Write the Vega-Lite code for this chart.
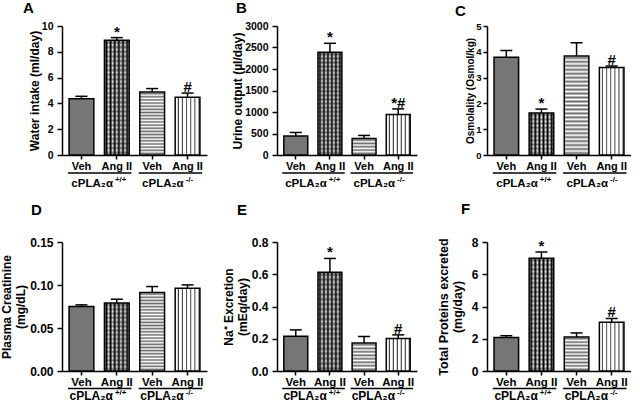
{
"$schema": "https://vega.github.io/schema/vega-lite/v6.json",
"background": "white",
"padding": {"left": 0, "top": 0, "right": 0, "bottom": 0},
"data": {"values": [
{"panel":"A","bar":"Veh +/+","treatment":"Veh","genotype":"+/+","value":4.37,"upper":4.55,"sig":""},
{"panel":"A","bar":"Ang II +/+","treatment":"Ang II","genotype":"+/+","value":8.89,"upper":9.1,"sig":"*"},
{"panel":"A","bar":"Veh -/-","treatment":"Veh","genotype":"-/-","value":4.88,"upper":5.15,"sig":""},
{"panel":"A","bar":"Ang II -/-","treatment":"Ang II","genotype":"-/-","value":4.47,"upper":4.8,"sig":"#"},
{"panel":"B","bar":"Veh +/+","treatment":"Veh","genotype":"+/+","value":440,"upper":524,"sig":""},
{"panel":"B","bar":"Ang II +/+","treatment":"Ang II","genotype":"+/+","value":2390,"upper":2598,"sig":"*"},
{"panel":"B","bar":"Veh -/-","treatment":"Veh","genotype":"-/-","value":385,"upper":455,"sig":""},
{"panel":"B","bar":"Ang II -/-","treatment":"Ang II","genotype":"-/-","value":940,"upper":1072,"sig":"*#"},
{"panel":"C","bar":"Veh +/+","treatment":"Veh","genotype":"+/+","value":3.79,"upper":4.05,"sig":""},
{"panel":"C","bar":"Ang II +/+","treatment":"Ang II","genotype":"+/+","value":1.63,"upper":1.78,"sig":"*"},
{"panel":"C","bar":"Veh -/-","treatment":"Veh","genotype":"-/-","value":3.84,"upper":4.35,"sig":""},
{"panel":"C","bar":"Ang II -/-","treatment":"Ang II","genotype":"-/-","value":3.39,"upper":3.45,"sig":"#"},
{"panel":"D","bar":"Veh +/+","treatment":"Veh","genotype":"+/+","value":0.075,"upper":0.0769,"sig":""},
{"panel":"D","bar":"Ang II +/+","treatment":"Ang II","genotype":"+/+","value":0.0792,"upper":0.0835,"sig":""},
{"panel":"D","bar":"Veh -/-","treatment":"Veh","genotype":"-/-","value":0.0912,"upper":0.0982,"sig":""},
{"panel":"D","bar":"Ang II -/-","treatment":"Ang II","genotype":"-/-","value":0.0962,"upper":0.1001,"sig":""},
{"panel":"E","bar":"Veh +/+","treatment":"Veh","genotype":"+/+","value":0.216,"upper":0.255,"sig":""},
{"panel":"E","bar":"Ang II +/+","treatment":"Ang II","genotype":"+/+","value":0.613,"upper":0.698,"sig":"*"},
{"panel":"E","bar":"Veh -/-","treatment":"Veh","genotype":"-/-","value":0.173,"upper":0.214,"sig":""},
{"panel":"E","bar":"Ang II -/-","treatment":"Ang II","genotype":"-/-","value":0.202,"upper":0.224,"sig":"#"},
{"panel":"F","bar":"Veh +/+","treatment":"Veh","genotype":"+/+","value":2.07,"upper":2.19,"sig":""},
{"panel":"F","bar":"Ang II +/+","treatment":"Ang II","genotype":"+/+","value":7.0,"upper":7.38,"sig":"*"},
{"panel":"F","bar":"Veh -/-","treatment":"Veh","genotype":"-/-","value":2.11,"upper":2.36,"sig":""},
{"panel":"F","bar":"Ang II -/-","treatment":"Ang II","genotype":"-/-","value":3.02,"upper":3.26,"sig":"#"}
]},
"config": {
  "font": "Liberation Sans",
  "view": {"stroke": null},
  "axis": {"grid": false, "domain": true, "ticks": true, "domainColor": "#000", "domainWidth": 1.5, "tickColor": "#000", "tickWidth": 1.5, "labelColor": "#000", "labelFontWeight": "bold", "labelFont": "Liberation Sans", "titleFont": "Liberation Sans", "titleFontWeight": "bold", "titleColor": "#000"},
  "axisX": {"labelAngle": 0, "tickSize": 4, "labelPadding": 1},
  "axisY": {"tickSize": 5, "labelPadding": 4},
  "title": {"anchor": "start", "frame": "group", "baseline": "alphabetic", "fontSize": 15, "fontWeight": "bold", "font": "Liberation Sans", "color": "#000"},
  "text": {"color": "#000", "font": "Liberation Sans"}
},
"columns": 3, "bounds": "flush", "align": "each", "spacing": {"row": 87, "column": 70},
"concat": [
{
 "width": 145, "height": 129,
 "title": {"text": "A", "dx": -39, "offset": 5.5},
 "transform": [{"filter": "datum.panel === 'A'"}],
 "encoding": {
  "x": {"field": "bar", "type": "nominal", "sort": ["Veh +/+","Ang II +/+","Veh -/-","Ang II -/-"], "scale": {"paddingInner": 0.3, "paddingOuter": 0.2}, "axis": {"title": null, "labelExpr": "slice(datum.label, 0, -4)", "labelFontSize": 11, "domain": true, "domainColor": "#000", "domainWidth": 1.5, "ticks": true, "tickColor": "#000", "tickWidth": 1.5, "tickSize": 4}},
  "y": {"field": "value", "type": "quantitative", "scale": {"domain": [0, 10], "nice": false}, "axis": {"title": "Water intake (ml/day)", "values": [0,2,4,6,8,10], "labelFontSize": 10.5, "titleFontSize": 12, "titlePadding": 0}}
 },
 "layer": [
  {"transform": [{"filter": "datum.bar === 'Veh +/+'"}], "mark": {"type": "bar", "fill": "#767676", "stroke": "#000", "strokeWidth": 1.5}},
  {"transform": [{"filter": "datum.bar === 'Ang II +/+'"}], "mark": {"type": "bar", "fill": {"gradient":"linear","x1":0,"y1":0,"x2":1,"y2":0,"stops":[{"offset":0,"color":"#fff"},{"offset":0.0833,"color":"#000"},{"offset":0.1667,"color":"#fff"},{"offset":0.25,"color":"#000"},{"offset":0.3333,"color":"#fff"},{"offset":0.4167,"color":"#000"},{"offset":0.5,"color":"#fff"},{"offset":0.5833,"color":"#000"},{"offset":0.6667,"color":"#fff"},{"offset":0.75,"color":"#000"},{"offset":0.8333,"color":"#fff"},{"offset":0.9167,"color":"#000"},{"offset":1,"color":"#fff"}]}}},
  {"transform": [{"filter": "datum.bar === 'Ang II +/+'"}], "mark": {"type": "bar", "stroke": "#000", "strokeWidth": 1.5, "fill": {"gradient":"linear","x1":0,"y1":0,"x2":0,"y2":1,"stops":[{"offset":0,"color":"rgba(0,0,0,0)"},{"offset":0.02,"color":"rgba(0,0,0,0.45)"},{"offset":0.04,"color":"rgba(0,0,0,0)"},{"offset":0.06,"color":"rgba(0,0,0,0.45)"},{"offset":0.08,"color":"rgba(0,0,0,0)"},{"offset":0.1,"color":"rgba(0,0,0,0.45)"},{"offset":0.12,"color":"rgba(0,0,0,0)"},{"offset":0.14,"color":"rgba(0,0,0,0.45)"},{"offset":0.16,"color":"rgba(0,0,0,0)"},{"offset":0.18,"color":"rgba(0,0,0,0.45)"},{"offset":0.2,"color":"rgba(0,0,0,0)"},{"offset":0.22,"color":"rgba(0,0,0,0.45)"},{"offset":0.24,"color":"rgba(0,0,0,0)"},{"offset":0.26,"color":"rgba(0,0,0,0.45)"},{"offset":0.28,"color":"rgba(0,0,0,0)"},{"offset":0.3,"color":"rgba(0,0,0,0.45)"},{"offset":0.32,"color":"rgba(0,0,0,0)"},{"offset":0.34,"color":"rgba(0,0,0,0.45)"},{"offset":0.36,"color":"rgba(0,0,0,0)"},{"offset":0.38,"color":"rgba(0,0,0,0.45)"},{"offset":0.4,"color":"rgba(0,0,0,0)"},{"offset":0.42,"color":"rgba(0,0,0,0.45)"},{"offset":0.44,"color":"rgba(0,0,0,0)"},{"offset":0.46,"color":"rgba(0,0,0,0.45)"},{"offset":0.48,"color":"rgba(0,0,0,0)"},{"offset":0.5,"color":"rgba(0,0,0,0.45)"},{"offset":0.52,"color":"rgba(0,0,0,0)"},{"offset":0.54,"color":"rgba(0,0,0,0.45)"},{"offset":0.56,"color":"rgba(0,0,0,0)"},{"offset":0.58,"color":"rgba(0,0,0,0.45)"},{"offset":0.6,"color":"rgba(0,0,0,0)"},{"offset":0.62,"color":"rgba(0,0,0,0.45)"},{"offset":0.64,"color":"rgba(0,0,0,0)"},{"offset":0.66,"color":"rgba(0,0,0,0.45)"},{"offset":0.68,"color":"rgba(0,0,0,0)"},{"offset":0.7,"color":"rgba(0,0,0,0.45)"},{"offset":0.72,"color":"rgba(0,0,0,0)"},{"offset":0.74,"color":"rgba(0,0,0,0.45)"},{"offset":0.76,"color":"rgba(0,0,0,0)"},{"offset":0.78,"color":"rgba(0,0,0,0.45)"},{"offset":0.8,"color":"rgba(0,0,0,0)"},{"offset":0.82,"color":"rgba(0,0,0,0.45)"},{"offset":0.84,"color":"rgba(0,0,0,0)"},{"offset":0.86,"color":"rgba(0,0,0,0.45)"},{"offset":0.88,"color":"rgba(0,0,0,0)"},{"offset":0.9,"color":"rgba(0,0,0,0.45)"},{"offset":0.92,"color":"rgba(0,0,0,0)"},{"offset":0.94,"color":"rgba(0,0,0,0.45)"},{"offset":0.96,"color":"rgba(0,0,0,0)"},{"offset":0.98,"color":"rgba(0,0,0,0.45)"},{"offset":1,"color":"rgba(0,0,0,0)"}]}}},
  {"transform": [{"filter": "datum.bar === 'Veh -/-'"}], "mark": {"type": "bar", "stroke": "#000", "strokeWidth": 1.5, "fill": {"gradient":"linear","x1":0,"y1":0,"x2":0,"y2":1,"stops":[{"offset":0,"color":"#fff"},{"offset":0.025,"color":"#6a6a6a"},{"offset":0.05,"color":"#fff"},{"offset":0.075,"color":"#6a6a6a"},{"offset":0.1,"color":"#fff"},{"offset":0.125,"color":"#6a6a6a"},{"offset":0.15,"color":"#fff"},{"offset":0.175,"color":"#6a6a6a"},{"offset":0.2,"color":"#fff"},{"offset":0.225,"color":"#6a6a6a"},{"offset":0.25,"color":"#fff"},{"offset":0.275,"color":"#6a6a6a"},{"offset":0.3,"color":"#fff"},{"offset":0.325,"color":"#6a6a6a"},{"offset":0.35,"color":"#fff"},{"offset":0.375,"color":"#6a6a6a"},{"offset":0.4,"color":"#fff"},{"offset":0.425,"color":"#6a6a6a"},{"offset":0.45,"color":"#fff"},{"offset":0.475,"color":"#6a6a6a"},{"offset":0.5,"color":"#fff"},{"offset":0.525,"color":"#6a6a6a"},{"offset":0.55,"color":"#fff"},{"offset":0.575,"color":"#6a6a6a"},{"offset":0.6,"color":"#fff"},{"offset":0.625,"color":"#6a6a6a"},{"offset":0.65,"color":"#fff"},{"offset":0.675,"color":"#6a6a6a"},{"offset":0.7,"color":"#fff"},{"offset":0.725,"color":"#6a6a6a"},{"offset":0.75,"color":"#fff"},{"offset":0.775,"color":"#6a6a6a"},{"offset":0.8,"color":"#fff"},{"offset":0.825,"color":"#6a6a6a"},{"offset":0.85,"color":"#fff"},{"offset":0.875,"color":"#6a6a6a"},{"offset":0.9,"color":"#fff"},{"offset":0.925,"color":"#6a6a6a"},{"offset":0.95,"color":"#fff"},{"offset":0.975,"color":"#6a6a6a"},{"offset":1,"color":"#fff"}]}}},
  {"transform": [{"filter": "datum.bar === 'Ang II -/-'"}], "mark": {"type": "bar", "stroke": "#000", "strokeWidth": 1.5, "fill": {"gradient":"linear","x1":0,"y1":0,"x2":1,"y2":0,"stops":[{"offset":0,"color":"#fff"},{"offset":0.0833,"color":"#fff"},{"offset":0.1333,"color":"#3a3a3a"},{"offset":0.1667,"color":"#fff"},{"offset":0.25,"color":"#fff"},{"offset":0.3,"color":"#3a3a3a"},{"offset":0.3333,"color":"#fff"},{"offset":0.4167,"color":"#fff"},{"offset":0.4667,"color":"#3a3a3a"},{"offset":0.5,"color":"#fff"},{"offset":0.5833,"color":"#fff"},{"offset":0.6333,"color":"#3a3a3a"},{"offset":0.6667,"color":"#fff"},{"offset":0.75,"color":"#fff"},{"offset":0.8,"color":"#3a3a3a"},{"offset":0.8333,"color":"#fff"},{"offset":0.9167,"color":"#fff"},{"offset":0.9667,"color":"#3a3a3a"},{"offset":1,"color":"#fff"}]}}},
  {"mark": {"type": "rule", "color": "#000", "strokeWidth": 1.5}, "encoding": {"y2": {"field": "upper"}}},
  {"mark": {"type": "tick", "color": "#000", "opacity": 1, "size": 12, "thickness": 1.5}, "encoding": {"y": {"field": "upper", "type": "quantitative"}}},
  {"mark": {"type": "text", "fontSize": 15, "fontWeight": "bold", "baseline": "alphabetic", "dy": -1}, "encoding": {"y": {"field": "upper", "type": "quantitative"}, "text": {"field": "sig"}}},
  {"transform": [{"filter": "datum.treatment === 'Veh'"}], "mark": {"type": "rule", "color": "#000", "strokeWidth": 1.5, "xOffset": -13.5, "x2Offset": 50, "yOffset": 18}, "encoding": {"x2": {"field": "bar"}, "y": {"datum": 0}}},
  {"transform": [{"filter": "datum.treatment === 'Veh'"}], "mark": {"type": "text", "text": "cPLA₂α", "align": "right", "dx": 31.5, "dy": 31.5, "baseline": "alphabetic", "fontSize": 11.5, "fontWeight": "bold"}, "encoding": {"y": {"datum": 0}}},
  {"transform": [{"filter": "datum.treatment === 'Veh'"}], "mark": {"type": "text", "align": "left", "dx": 33.5, "dy": 26.5, "baseline": "alphabetic", "fontSize": 8, "fontWeight": "bold"}, "encoding": {"y": {"datum": 0}, "text": {"field": "genotype"}}}
 ]
},
{
 "width": 140, "height": 129,
 "title": {"text": "B", "dx": -41, "offset": 5.5},
 "transform": [{"filter": "datum.panel === 'B'"}],
 "encoding": {
  "x": {"field": "bar", "type": "nominal", "sort": ["Veh +/+","Ang II +/+","Veh -/-","Ang II -/-"], "scale": {"paddingInner": 0.3, "paddingOuter": 0.2}, "axis": {"title": null, "labelExpr": "slice(datum.label, 0, -4)", "labelFontSize": 11, "domain": true, "domainColor": "#000", "domainWidth": 1.5, "ticks": true, "tickColor": "#000", "tickWidth": 1.5, "tickSize": 4}},
  "y": {"field": "value", "type": "quantitative", "scale": {"domain": [0, 3000], "nice": false}, "axis": {"title": "Urine output (µl/day)", "values": [0,500,1000,1500,2000,2500,3000], "format": "d", "labelFontSize": 10.5, "titleFontSize": 12, "titlePadding": 0}}
 },
 "layer": [
  {"transform": [{"filter": "datum.bar === 'Veh +/+'"}], "mark": {"type": "bar", "fill": "#767676", "stroke": "#000", "strokeWidth": 1.5}},
  {"transform": [{"filter": "datum.bar === 'Ang II +/+'"}], "mark": {"type": "bar", "fill": {"gradient":"linear","x1":0,"y1":0,"x2":1,"y2":0,"stops":[{"offset":0,"color":"#fff"},{"offset":0.0833,"color":"#000"},{"offset":0.1667,"color":"#fff"},{"offset":0.25,"color":"#000"},{"offset":0.3333,"color":"#fff"},{"offset":0.4167,"color":"#000"},{"offset":0.5,"color":"#fff"},{"offset":0.5833,"color":"#000"},{"offset":0.6667,"color":"#fff"},{"offset":0.75,"color":"#000"},{"offset":0.8333,"color":"#fff"},{"offset":0.9167,"color":"#000"},{"offset":1,"color":"#fff"}]}}},
  {"transform": [{"filter": "datum.bar === 'Ang II +/+'"}], "mark": {"type": "bar", "stroke": "#000", "strokeWidth": 1.5, "fill": {"gradient":"linear","x1":0,"y1":0,"x2":0,"y2":1,"stops":[{"offset":0,"color":"rgba(0,0,0,0)"},{"offset":0.02,"color":"rgba(0,0,0,0.45)"},{"offset":0.04,"color":"rgba(0,0,0,0)"},{"offset":0.06,"color":"rgba(0,0,0,0.45)"},{"offset":0.08,"color":"rgba(0,0,0,0)"},{"offset":0.1,"color":"rgba(0,0,0,0.45)"},{"offset":0.12,"color":"rgba(0,0,0,0)"},{"offset":0.14,"color":"rgba(0,0,0,0.45)"},{"offset":0.16,"color":"rgba(0,0,0,0)"},{"offset":0.18,"color":"rgba(0,0,0,0.45)"},{"offset":0.2,"color":"rgba(0,0,0,0)"},{"offset":0.22,"color":"rgba(0,0,0,0.45)"},{"offset":0.24,"color":"rgba(0,0,0,0)"},{"offset":0.26,"color":"rgba(0,0,0,0.45)"},{"offset":0.28,"color":"rgba(0,0,0,0)"},{"offset":0.3,"color":"rgba(0,0,0,0.45)"},{"offset":0.32,"color":"rgba(0,0,0,0)"},{"offset":0.34,"color":"rgba(0,0,0,0.45)"},{"offset":0.36,"color":"rgba(0,0,0,0)"},{"offset":0.38,"color":"rgba(0,0,0,0.45)"},{"offset":0.4,"color":"rgba(0,0,0,0)"},{"offset":0.42,"color":"rgba(0,0,0,0.45)"},{"offset":0.44,"color":"rgba(0,0,0,0)"},{"offset":0.46,"color":"rgba(0,0,0,0.45)"},{"offset":0.48,"color":"rgba(0,0,0,0)"},{"offset":0.5,"color":"rgba(0,0,0,0.45)"},{"offset":0.52,"color":"rgba(0,0,0,0)"},{"offset":0.54,"color":"rgba(0,0,0,0.45)"},{"offset":0.56,"color":"rgba(0,0,0,0)"},{"offset":0.58,"color":"rgba(0,0,0,0.45)"},{"offset":0.6,"color":"rgba(0,0,0,0)"},{"offset":0.62,"color":"rgba(0,0,0,0.45)"},{"offset":0.64,"color":"rgba(0,0,0,0)"},{"offset":0.66,"color":"rgba(0,0,0,0.45)"},{"offset":0.68,"color":"rgba(0,0,0,0)"},{"offset":0.7,"color":"rgba(0,0,0,0.45)"},{"offset":0.72,"color":"rgba(0,0,0,0)"},{"offset":0.74,"color":"rgba(0,0,0,0.45)"},{"offset":0.76,"color":"rgba(0,0,0,0)"},{"offset":0.78,"color":"rgba(0,0,0,0.45)"},{"offset":0.8,"color":"rgba(0,0,0,0)"},{"offset":0.82,"color":"rgba(0,0,0,0.45)"},{"offset":0.84,"color":"rgba(0,0,0,0)"},{"offset":0.86,"color":"rgba(0,0,0,0.45)"},{"offset":0.88,"color":"rgba(0,0,0,0)"},{"offset":0.9,"color":"rgba(0,0,0,0.45)"},{"offset":0.92,"color":"rgba(0,0,0,0)"},{"offset":0.94,"color":"rgba(0,0,0,0.45)"},{"offset":0.96,"color":"rgba(0,0,0,0)"},{"offset":0.98,"color":"rgba(0,0,0,0.45)"},{"offset":1,"color":"rgba(0,0,0,0)"}]}}},
  {"transform": [{"filter": "datum.bar === 'Veh -/-'"}], "mark": {"type": "bar", "stroke": "#000", "strokeWidth": 1.5, "fill": {"gradient":"linear","x1":0,"y1":0,"x2":0,"y2":1,"stops":[{"offset":0,"color":"#fff"},{"offset":0.1,"color":"#6a6a6a"},{"offset":0.2,"color":"#fff"},{"offset":0.3,"color":"#6a6a6a"},{"offset":0.4,"color":"#fff"},{"offset":0.5,"color":"#6a6a6a"},{"offset":0.6,"color":"#fff"},{"offset":0.7,"color":"#6a6a6a"},{"offset":0.8,"color":"#fff"},{"offset":0.9,"color":"#6a6a6a"},{"offset":1,"color":"#fff"}]}}},
  {"transform": [{"filter": "datum.bar === 'Ang II -/-'"}], "mark": {"type": "bar", "stroke": "#000", "strokeWidth": 1.5, "fill": {"gradient":"linear","x1":0,"y1":0,"x2":1,"y2":0,"stops":[{"offset":0,"color":"#fff"},{"offset":0.0833,"color":"#fff"},{"offset":0.1333,"color":"#3a3a3a"},{"offset":0.1667,"color":"#fff"},{"offset":0.25,"color":"#fff"},{"offset":0.3,"color":"#3a3a3a"},{"offset":0.3333,"color":"#fff"},{"offset":0.4167,"color":"#fff"},{"offset":0.4667,"color":"#3a3a3a"},{"offset":0.5,"color":"#fff"},{"offset":0.5833,"color":"#fff"},{"offset":0.6333,"color":"#3a3a3a"},{"offset":0.6667,"color":"#fff"},{"offset":0.75,"color":"#fff"},{"offset":0.8,"color":"#3a3a3a"},{"offset":0.8333,"color":"#fff"},{"offset":0.9167,"color":"#fff"},{"offset":0.9667,"color":"#3a3a3a"},{"offset":1,"color":"#fff"}]}}},
  {"mark": {"type": "rule", "color": "#000", "strokeWidth": 1.5}, "encoding": {"y2": {"field": "upper"}}},
  {"mark": {"type": "tick", "color": "#000", "opacity": 1, "size": 12, "thickness": 1.5}, "encoding": {"y": {"field": "upper", "type": "quantitative"}}},
  {"mark": {"type": "text", "fontSize": 15, "fontWeight": "bold", "baseline": "alphabetic", "dy": -1}, "encoding": {"y": {"field": "upper", "type": "quantitative"}, "text": {"field": "sig"}}},
  {"transform": [{"filter": "datum.treatment === 'Veh'"}], "mark": {"type": "rule", "color": "#000", "strokeWidth": 1.5, "xOffset": -13.5, "x2Offset": 49, "yOffset": 18}, "encoding": {"x2": {"field": "bar"}, "y": {"datum": 0}}},
  {"transform": [{"filter": "datum.treatment === 'Veh'"}], "mark": {"type": "text", "text": "cPLA₂α", "align": "right", "dx": 31, "dy": 31.5, "baseline": "alphabetic", "fontSize": 11.5, "fontWeight": "bold"}, "encoding": {"y": {"datum": 0}}},
  {"transform": [{"filter": "datum.treatment === 'Veh'"}], "mark": {"type": "text", "align": "left", "dx": 33, "dy": 26.5, "baseline": "alphabetic", "fontSize": 8, "fontWeight": "bold"}, "encoding": {"y": {"datum": 0}, "text": {"field": "genotype"}}}
 ]
},
{
 "width": 144, "height": 129,
 "title": {"text": "C", "dx": -32, "offset": 2.5},
 "transform": [{"filter": "datum.panel === 'C'"}],
 "encoding": {
  "x": {"field": "bar", "type": "nominal", "sort": ["Veh +/+","Ang II +/+","Veh -/-","Ang II -/-"], "scale": {"paddingInner": 0.3, "paddingOuter": 0.2}, "axis": {"title": null, "labelExpr": "slice(datum.label, 0, -4)", "labelFontSize": 11, "domain": true, "domainColor": "#000", "domainWidth": 1.5, "ticks": true, "tickColor": "#000", "tickWidth": 1.5, "tickSize": 4}},
  "y": {"field": "value", "type": "quantitative", "scale": {"domain": [0, 5], "nice": false}, "axis": {"title": "Osmolality (Osmol/kg)", "values": [0,1,2,3,4,5], "labelFontSize": 9.5, "titleFontSize": 10, "titlePadding": 0, "tickSize": 4, "labelPadding": 2}}
 },
 "layer": [
  {"transform": [{"filter": "datum.bar === 'Veh +/+'"}], "mark": {"type": "bar", "fill": "#767676", "stroke": "#000", "strokeWidth": 1.5}},
  {"transform": [{"filter": "datum.bar === 'Ang II +/+'"}], "mark": {"type": "bar", "fill": {"gradient":"linear","x1":0,"y1":0,"x2":1,"y2":0,"stops":[{"offset":0,"color":"#fff"},{"offset":0.0833,"color":"#000"},{"offset":0.1667,"color":"#fff"},{"offset":0.25,"color":"#000"},{"offset":0.3333,"color":"#fff"},{"offset":0.4167,"color":"#000"},{"offset":0.5,"color":"#fff"},{"offset":0.5833,"color":"#000"},{"offset":0.6667,"color":"#fff"},{"offset":0.75,"color":"#000"},{"offset":0.8333,"color":"#fff"},{"offset":0.9167,"color":"#000"},{"offset":1,"color":"#fff"}]}}},
  {"transform": [{"filter": "datum.bar === 'Ang II +/+'"}], "mark": {"type": "bar", "stroke": "#000", "strokeWidth": 1.5, "fill": {"gradient":"linear","x1":0,"y1":0,"x2":0,"y2":1,"stops":[{"offset":0,"color":"rgba(0,0,0,0)"},{"offset":0.05,"color":"rgba(0,0,0,0.45)"},{"offset":0.1,"color":"rgba(0,0,0,0)"},{"offset":0.15,"color":"rgba(0,0,0,0.45)"},{"offset":0.2,"color":"rgba(0,0,0,0)"},{"offset":0.25,"color":"rgba(0,0,0,0.45)"},{"offset":0.3,"color":"rgba(0,0,0,0)"},{"offset":0.35,"color":"rgba(0,0,0,0.45)"},{"offset":0.4,"color":"rgba(0,0,0,0)"},{"offset":0.45,"color":"rgba(0,0,0,0.45)"},{"offset":0.5,"color":"rgba(0,0,0,0)"},{"offset":0.55,"color":"rgba(0,0,0,0.45)"},{"offset":0.6,"color":"rgba(0,0,0,0)"},{"offset":0.65,"color":"rgba(0,0,0,0.45)"},{"offset":0.7,"color":"rgba(0,0,0,0)"},{"offset":0.75,"color":"rgba(0,0,0,0.45)"},{"offset":0.8,"color":"rgba(0,0,0,0)"},{"offset":0.85,"color":"rgba(0,0,0,0.45)"},{"offset":0.9,"color":"rgba(0,0,0,0)"},{"offset":0.95,"color":"rgba(0,0,0,0.45)"},{"offset":1,"color":"rgba(0,0,0,0)"}]}}},
  {"transform": [{"filter": "datum.bar === 'Veh -/-'"}], "mark": {"type": "bar", "stroke": "#000", "strokeWidth": 1.5, "fill": {"gradient":"linear","x1":0,"y1":0,"x2":0,"y2":1,"stops":[{"offset":0,"color":"#fff"},{"offset":0.02,"color":"#6a6a6a"},{"offset":0.04,"color":"#fff"},{"offset":0.06,"color":"#6a6a6a"},{"offset":0.08,"color":"#fff"},{"offset":0.1,"color":"#6a6a6a"},{"offset":0.12,"color":"#fff"},{"offset":0.14,"color":"#6a6a6a"},{"offset":0.16,"color":"#fff"},{"offset":0.18,"color":"#6a6a6a"},{"offset":0.2,"color":"#fff"},{"offset":0.22,"color":"#6a6a6a"},{"offset":0.24,"color":"#fff"},{"offset":0.26,"color":"#6a6a6a"},{"offset":0.28,"color":"#fff"},{"offset":0.3,"color":"#6a6a6a"},{"offset":0.32,"color":"#fff"},{"offset":0.34,"color":"#6a6a6a"},{"offset":0.36,"color":"#fff"},{"offset":0.38,"color":"#6a6a6a"},{"offset":0.4,"color":"#fff"},{"offset":0.42,"color":"#6a6a6a"},{"offset":0.44,"color":"#fff"},{"offset":0.46,"color":"#6a6a6a"},{"offset":0.48,"color":"#fff"},{"offset":0.5,"color":"#6a6a6a"},{"offset":0.52,"color":"#fff"},{"offset":0.54,"color":"#6a6a6a"},{"offset":0.56,"color":"#fff"},{"offset":0.58,"color":"#6a6a6a"},{"offset":0.6,"color":"#fff"},{"offset":0.62,"color":"#6a6a6a"},{"offset":0.64,"color":"#fff"},{"offset":0.66,"color":"#6a6a6a"},{"offset":0.68,"color":"#fff"},{"offset":0.7,"color":"#6a6a6a"},{"offset":0.72,"color":"#fff"},{"offset":0.74,"color":"#6a6a6a"},{"offset":0.76,"color":"#fff"},{"offset":0.78,"color":"#6a6a6a"},{"offset":0.8,"color":"#fff"},{"offset":0.82,"color":"#6a6a6a"},{"offset":0.84,"color":"#fff"},{"offset":0.86,"color":"#6a6a6a"},{"offset":0.88,"color":"#fff"},{"offset":0.9,"color":"#6a6a6a"},{"offset":0.92,"color":"#fff"},{"offset":0.94,"color":"#6a6a6a"},{"offset":0.96,"color":"#fff"},{"offset":0.98,"color":"#6a6a6a"},{"offset":1,"color":"#fff"}]}}},
  {"transform": [{"filter": "datum.bar === 'Ang II -/-'"}], "mark": {"type": "bar", "stroke": "#000", "strokeWidth": 1.5, "fill": {"gradient":"linear","x1":0,"y1":0,"x2":1,"y2":0,"stops":[{"offset":0,"color":"#fff"},{"offset":0.0833,"color":"#fff"},{"offset":0.1333,"color":"#3a3a3a"},{"offset":0.1667,"color":"#fff"},{"offset":0.25,"color":"#fff"},{"offset":0.3,"color":"#3a3a3a"},{"offset":0.3333,"color":"#fff"},{"offset":0.4167,"color":"#fff"},{"offset":0.4667,"color":"#3a3a3a"},{"offset":0.5,"color":"#fff"},{"offset":0.5833,"color":"#fff"},{"offset":0.6333,"color":"#3a3a3a"},{"offset":0.6667,"color":"#fff"},{"offset":0.75,"color":"#fff"},{"offset":0.8,"color":"#3a3a3a"},{"offset":0.8333,"color":"#fff"},{"offset":0.9167,"color":"#fff"},{"offset":0.9667,"color":"#3a3a3a"},{"offset":1,"color":"#fff"}]}}},
  {"mark": {"type": "rule", "color": "#000", "strokeWidth": 1.5}, "encoding": {"y2": {"field": "upper"}}},
  {"mark": {"type": "tick", "color": "#000", "opacity": 1, "size": 12, "thickness": 1.5}, "encoding": {"y": {"field": "upper", "type": "quantitative"}}},
  {"mark": {"type": "text", "fontSize": 15, "fontWeight": "bold", "baseline": "alphabetic", "dy": -1}, "encoding": {"y": {"field": "upper", "type": "quantitative"}, "text": {"field": "sig"}}},
  {"transform": [{"filter": "datum.treatment === 'Veh'"}], "mark": {"type": "rule", "color": "#000", "strokeWidth": 1.5, "xOffset": -13.5, "x2Offset": 50, "yOffset": 18}, "encoding": {"x2": {"field": "bar"}, "y": {"datum": 0}}},
  {"transform": [{"filter": "datum.treatment === 'Veh'"}], "mark": {"type": "text", "text": "cPLA₂α", "align": "right", "dx": 31.5, "dy": 31.5, "baseline": "alphabetic", "fontSize": 11.5, "fontWeight": "bold"}, "encoding": {"y": {"datum": 0}}},
  {"transform": [{"filter": "datum.treatment === 'Veh'"}], "mark": {"type": "text", "align": "left", "dx": 33.5, "dy": 26.5, "baseline": "alphabetic", "fontSize": 8, "fontWeight": "bold"}, "encoding": {"y": {"datum": 0}, "text": {"field": "genotype"}}}
 ]
},
{
 "width": 145, "height": 129,
 "title": {"text": "D", "dx": -31, "offset": 18.5},
 "transform": [{"filter": "datum.panel === 'D'"}],
 "encoding": {
  "x": {"field": "bar", "type": "nominal", "sort": ["Veh +/+","Ang II +/+","Veh -/-","Ang II -/-"], "scale": {"paddingInner": 0.3, "paddingOuter": 0.2}, "axis": {"title": null, "labelExpr": "slice(datum.label, 0, -4)", "labelFontSize": 11.5, "domain": true, "domainColor": "#000", "domainWidth": 1.5, "ticks": true, "tickColor": "#000", "tickWidth": 1.5, "tickSize": 4}},
  "y": {"field": "value", "type": "quantitative", "scale": {"domain": [0, 0.15], "nice": false}, "axis": {"title": ["Plasma Creatinine", "(mg/dL)"], "values": [0,0.05,0.1,0.15], "format": ".2f", "labelFontSize": 12, "titleFontSize": 12, "titleLineHeight": 14, "titlePadding": 2}}
 },
 "layer": [
  {"transform": [{"filter": "datum.bar === 'Veh +/+'"}], "mark": {"type": "bar", "fill": "#767676", "stroke": "#000", "strokeWidth": 1.5}},
  {"transform": [{"filter": "datum.bar === 'Ang II +/+'"}], "mark": {"type": "bar", "fill": {"gradient":"linear","x1":0,"y1":0,"x2":1,"y2":0,"stops":[{"offset":0,"color":"#fff"},{"offset":0.0833,"color":"#000"},{"offset":0.1667,"color":"#fff"},{"offset":0.25,"color":"#000"},{"offset":0.3333,"color":"#fff"},{"offset":0.4167,"color":"#000"},{"offset":0.5,"color":"#fff"},{"offset":0.5833,"color":"#000"},{"offset":0.6667,"color":"#fff"},{"offset":0.75,"color":"#000"},{"offset":0.8333,"color":"#fff"},{"offset":0.9167,"color":"#000"},{"offset":1,"color":"#fff"}]}}},
  {"transform": [{"filter": "datum.bar === 'Ang II +/+'"}], "mark": {"type": "bar", "stroke": "#000", "strokeWidth": 1.5, "fill": {"gradient":"linear","x1":0,"y1":0,"x2":0,"y2":1,"stops":[{"offset":0,"color":"rgba(0,0,0,0)"},{"offset":0.03125,"color":"rgba(0,0,0,0.45)"},{"offset":0.0625,"color":"rgba(0,0,0,0)"},{"offset":0.09375,"color":"rgba(0,0,0,0.45)"},{"offset":0.125,"color":"rgba(0,0,0,0)"},{"offset":0.15625,"color":"rgba(0,0,0,0.45)"},{"offset":0.1875,"color":"rgba(0,0,0,0)"},{"offset":0.21875,"color":"rgba(0,0,0,0.45)"},{"offset":0.25,"color":"rgba(0,0,0,0)"},{"offset":0.28125,"color":"rgba(0,0,0,0.45)"},{"offset":0.3125,"color":"rgba(0,0,0,0)"},{"offset":0.34375,"color":"rgba(0,0,0,0.45)"},{"offset":0.375,"color":"rgba(0,0,0,0)"},{"offset":0.40625,"color":"rgba(0,0,0,0.45)"},{"offset":0.4375,"color":"rgba(0,0,0,0)"},{"offset":0.46875,"color":"rgba(0,0,0,0.45)"},{"offset":0.5,"color":"rgba(0,0,0,0)"},{"offset":0.53125,"color":"rgba(0,0,0,0.45)"},{"offset":0.5625,"color":"rgba(0,0,0,0)"},{"offset":0.59375,"color":"rgba(0,0,0,0.45)"},{"offset":0.625,"color":"rgba(0,0,0,0)"},{"offset":0.65625,"color":"rgba(0,0,0,0.45)"},{"offset":0.6875,"color":"rgba(0,0,0,0)"},{"offset":0.71875,"color":"rgba(0,0,0,0.45)"},{"offset":0.75,"color":"rgba(0,0,0,0)"},{"offset":0.78125,"color":"rgba(0,0,0,0.45)"},{"offset":0.8125,"color":"rgba(0,0,0,0)"},{"offset":0.84375,"color":"rgba(0,0,0,0.45)"},{"offset":0.875,"color":"rgba(0,0,0,0)"},{"offset":0.90625,"color":"rgba(0,0,0,0.45)"},{"offset":0.9375,"color":"rgba(0,0,0,0)"},{"offset":0.96875,"color":"rgba(0,0,0,0.45)"},{"offset":1,"color":"rgba(0,0,0,0)"}]}}},
  {"transform": [{"filter": "datum.bar === 'Veh -/-'"}], "mark": {"type": "bar", "stroke": "#000", "strokeWidth": 1.5, "fill": {"gradient":"linear","x1":0,"y1":0,"x2":0,"y2":1,"stops":[{"offset":0,"color":"#fff"},{"offset":0.02,"color":"#6a6a6a"},{"offset":0.04,"color":"#fff"},{"offset":0.06,"color":"#6a6a6a"},{"offset":0.08,"color":"#fff"},{"offset":0.1,"color":"#6a6a6a"},{"offset":0.12,"color":"#fff"},{"offset":0.14,"color":"#6a6a6a"},{"offset":0.16,"color":"#fff"},{"offset":0.18,"color":"#6a6a6a"},{"offset":0.2,"color":"#fff"},{"offset":0.22,"color":"#6a6a6a"},{"offset":0.24,"color":"#fff"},{"offset":0.26,"color":"#6a6a6a"},{"offset":0.28,"color":"#fff"},{"offset":0.3,"color":"#6a6a6a"},{"offset":0.32,"color":"#fff"},{"offset":0.34,"color":"#6a6a6a"},{"offset":0.36,"color":"#fff"},{"offset":0.38,"color":"#6a6a6a"},{"offset":0.4,"color":"#fff"},{"offset":0.42,"color":"#6a6a6a"},{"offset":0.44,"color":"#fff"},{"offset":0.46,"color":"#6a6a6a"},{"offset":0.48,"color":"#fff"},{"offset":0.5,"color":"#6a6a6a"},{"offset":0.52,"color":"#fff"},{"offset":0.54,"color":"#6a6a6a"},{"offset":0.56,"color":"#fff"},{"offset":0.58,"color":"#6a6a6a"},{"offset":0.6,"color":"#fff"},{"offset":0.62,"color":"#6a6a6a"},{"offset":0.64,"color":"#fff"},{"offset":0.66,"color":"#6a6a6a"},{"offset":0.68,"color":"#fff"},{"offset":0.7,"color":"#6a6a6a"},{"offset":0.72,"color":"#fff"},{"offset":0.74,"color":"#6a6a6a"},{"offset":0.76,"color":"#fff"},{"offset":0.78,"color":"#6a6a6a"},{"offset":0.8,"color":"#fff"},{"offset":0.82,"color":"#6a6a6a"},{"offset":0.84,"color":"#fff"},{"offset":0.86,"color":"#6a6a6a"},{"offset":0.88,"color":"#fff"},{"offset":0.9,"color":"#6a6a6a"},{"offset":0.92,"color":"#fff"},{"offset":0.94,"color":"#6a6a6a"},{"offset":0.96,"color":"#fff"},{"offset":0.98,"color":"#6a6a6a"},{"offset":1,"color":"#fff"}]}}},
  {"transform": [{"filter": "datum.bar === 'Ang II -/-'"}], "mark": {"type": "bar", "stroke": "#000", "strokeWidth": 1.5, "fill": {"gradient":"linear","x1":0,"y1":0,"x2":1,"y2":0,"stops":[{"offset":0,"color":"#fff"},{"offset":0.0833,"color":"#fff"},{"offset":0.1333,"color":"#3a3a3a"},{"offset":0.1667,"color":"#fff"},{"offset":0.25,"color":"#fff"},{"offset":0.3,"color":"#3a3a3a"},{"offset":0.3333,"color":"#fff"},{"offset":0.4167,"color":"#fff"},{"offset":0.4667,"color":"#3a3a3a"},{"offset":0.5,"color":"#fff"},{"offset":0.5833,"color":"#fff"},{"offset":0.6333,"color":"#3a3a3a"},{"offset":0.6667,"color":"#fff"},{"offset":0.75,"color":"#fff"},{"offset":0.8,"color":"#3a3a3a"},{"offset":0.8333,"color":"#fff"},{"offset":0.9167,"color":"#fff"},{"offset":0.9667,"color":"#3a3a3a"},{"offset":1,"color":"#fff"}]}}},
  {"mark": {"type": "rule", "color": "#000", "strokeWidth": 1.5}, "encoding": {"y2": {"field": "upper"}}},
  {"mark": {"type": "tick", "color": "#000", "opacity": 1, "size": 12, "thickness": 1.5}, "encoding": {"y": {"field": "upper", "type": "quantitative"}}},
  {"transform": [{"filter": "datum.treatment === 'Veh'"}], "mark": {"type": "rule", "color": "#000", "strokeWidth": 1.5, "xOffset": -13.5, "x2Offset": 50, "yOffset": 17.5}, "encoding": {"x2": {"field": "bar"}, "y": {"datum": 0}}},
  {"transform": [{"filter": "datum.treatment === 'Veh'"}], "mark": {"type": "text", "text": "cPLA₂α", "align": "right", "dx": 31.5, "dy": 29, "baseline": "alphabetic", "fontSize": 12, "fontWeight": "bold"}, "encoding": {"y": {"datum": 0}}},
  {"transform": [{"filter": "datum.treatment === 'Veh'"}], "mark": {"type": "text", "align": "left", "dx": 33.5, "dy": 23.5, "baseline": "alphabetic", "fontSize": 8, "fontWeight": "bold"}, "encoding": {"y": {"datum": 0}, "text": {"field": "genotype"}}}
 ]
},
{
 "width": 140, "height": 129,
 "title": {"text": "E", "dx": -40, "offset": 18.5},
 "transform": [{"filter": "datum.panel === 'E'"}],
 "encoding": {
  "x": {"field": "bar", "type": "nominal", "sort": ["Veh +/+","Ang II +/+","Veh -/-","Ang II -/-"], "scale": {"paddingInner": 0.3, "paddingOuter": 0.2}, "axis": {"title": null, "labelExpr": "slice(datum.label, 0, -4)", "labelFontSize": 11.5, "domain": true, "domainColor": "#000", "domainWidth": 1.5, "ticks": true, "tickColor": "#000", "tickWidth": 1.5, "tickSize": 4}},
  "y": {"field": "value", "type": "quantitative", "scale": {"domain": [0, 0.8], "nice": false}, "axis": {"title": ["Na⁺ Excretion", "(mEq/day)"], "values": [0,0.2,0.4,0.6,0.8], "format": ".1f", "labelFontSize": 12, "titleFontSize": 12, "titleLineHeight": 14, "titlePadding": 2}}
 },
 "layer": [
  {"transform": [{"filter": "datum.bar === 'Veh +/+'"}], "mark": {"type": "bar", "fill": "#767676", "stroke": "#000", "strokeWidth": 1.5}},
  {"transform": [{"filter": "datum.bar === 'Ang II +/+'"}], "mark": {"type": "bar", "fill": {"gradient":"linear","x1":0,"y1":0,"x2":1,"y2":0,"stops":[{"offset":0,"color":"#fff"},{"offset":0.0833,"color":"#000"},{"offset":0.1667,"color":"#fff"},{"offset":0.25,"color":"#000"},{"offset":0.3333,"color":"#fff"},{"offset":0.4167,"color":"#000"},{"offset":0.5,"color":"#fff"},{"offset":0.5833,"color":"#000"},{"offset":0.6667,"color":"#fff"},{"offset":0.75,"color":"#000"},{"offset":0.8333,"color":"#fff"},{"offset":0.9167,"color":"#000"},{"offset":1,"color":"#fff"}]}}},
  {"transform": [{"filter": "datum.bar === 'Ang II +/+'"}], "mark": {"type": "bar", "stroke": "#000", "strokeWidth": 1.5, "fill": {"gradient":"linear","x1":0,"y1":0,"x2":0,"y2":1,"stops":[{"offset":0,"color":"rgba(0,0,0,0)"},{"offset":0.025,"color":"rgba(0,0,0,0.45)"},{"offset":0.05,"color":"rgba(0,0,0,0)"},{"offset":0.075,"color":"rgba(0,0,0,0.45)"},{"offset":0.1,"color":"rgba(0,0,0,0)"},{"offset":0.125,"color":"rgba(0,0,0,0.45)"},{"offset":0.15,"color":"rgba(0,0,0,0)"},{"offset":0.175,"color":"rgba(0,0,0,0.45)"},{"offset":0.2,"color":"rgba(0,0,0,0)"},{"offset":0.225,"color":"rgba(0,0,0,0.45)"},{"offset":0.25,"color":"rgba(0,0,0,0)"},{"offset":0.275,"color":"rgba(0,0,0,0.45)"},{"offset":0.3,"color":"rgba(0,0,0,0)"},{"offset":0.325,"color":"rgba(0,0,0,0.45)"},{"offset":0.35,"color":"rgba(0,0,0,0)"},{"offset":0.375,"color":"rgba(0,0,0,0.45)"},{"offset":0.4,"color":"rgba(0,0,0,0)"},{"offset":0.425,"color":"rgba(0,0,0,0.45)"},{"offset":0.45,"color":"rgba(0,0,0,0)"},{"offset":0.475,"color":"rgba(0,0,0,0.45)"},{"offset":0.5,"color":"rgba(0,0,0,0)"},{"offset":0.525,"color":"rgba(0,0,0,0.45)"},{"offset":0.55,"color":"rgba(0,0,0,0)"},{"offset":0.575,"color":"rgba(0,0,0,0.45)"},{"offset":0.6,"color":"rgba(0,0,0,0)"},{"offset":0.625,"color":"rgba(0,0,0,0.45)"},{"offset":0.65,"color":"rgba(0,0,0,0)"},{"offset":0.675,"color":"rgba(0,0,0,0.45)"},{"offset":0.7,"color":"rgba(0,0,0,0)"},{"offset":0.725,"color":"rgba(0,0,0,0.45)"},{"offset":0.75,"color":"rgba(0,0,0,0)"},{"offset":0.775,"color":"rgba(0,0,0,0.45)"},{"offset":0.8,"color":"rgba(0,0,0,0)"},{"offset":0.825,"color":"rgba(0,0,0,0.45)"},{"offset":0.85,"color":"rgba(0,0,0,0)"},{"offset":0.875,"color":"rgba(0,0,0,0.45)"},{"offset":0.9,"color":"rgba(0,0,0,0)"},{"offset":0.925,"color":"rgba(0,0,0,0.45)"},{"offset":0.95,"color":"rgba(0,0,0,0)"},{"offset":0.975,"color":"rgba(0,0,0,0.45)"},{"offset":1,"color":"rgba(0,0,0,0)"}]}}},
  {"transform": [{"filter": "datum.bar === 'Veh -/-'"}], "mark": {"type": "bar", "stroke": "#000", "strokeWidth": 1.5, "fill": {"gradient":"linear","x1":0,"y1":0,"x2":0,"y2":1,"stops":[{"offset":0,"color":"#fff"},{"offset":0.0625,"color":"#6a6a6a"},{"offset":0.125,"color":"#fff"},{"offset":0.1875,"color":"#6a6a6a"},{"offset":0.25,"color":"#fff"},{"offset":0.3125,"color":"#6a6a6a"},{"offset":0.375,"color":"#fff"},{"offset":0.4375,"color":"#6a6a6a"},{"offset":0.5,"color":"#fff"},{"offset":0.5625,"color":"#6a6a6a"},{"offset":0.625,"color":"#fff"},{"offset":0.6875,"color":"#6a6a6a"},{"offset":0.75,"color":"#fff"},{"offset":0.8125,"color":"#6a6a6a"},{"offset":0.875,"color":"#fff"},{"offset":0.9375,"color":"#6a6a6a"},{"offset":1,"color":"#fff"}]}}},
  {"transform": [{"filter": "datum.bar === 'Ang II -/-'"}], "mark": {"type": "bar", "stroke": "#000", "strokeWidth": 1.5, "fill": {"gradient":"linear","x1":0,"y1":0,"x2":1,"y2":0,"stops":[{"offset":0,"color":"#fff"},{"offset":0.0833,"color":"#fff"},{"offset":0.1333,"color":"#3a3a3a"},{"offset":0.1667,"color":"#fff"},{"offset":0.25,"color":"#fff"},{"offset":0.3,"color":"#3a3a3a"},{"offset":0.3333,"color":"#fff"},{"offset":0.4167,"color":"#fff"},{"offset":0.4667,"color":"#3a3a3a"},{"offset":0.5,"color":"#fff"},{"offset":0.5833,"color":"#fff"},{"offset":0.6333,"color":"#3a3a3a"},{"offset":0.6667,"color":"#fff"},{"offset":0.75,"color":"#fff"},{"offset":0.8,"color":"#3a3a3a"},{"offset":0.8333,"color":"#fff"},{"offset":0.9167,"color":"#fff"},{"offset":0.9667,"color":"#3a3a3a"},{"offset":1,"color":"#fff"}]}}},
  {"mark": {"type": "rule", "color": "#000", "strokeWidth": 1.5}, "encoding": {"y2": {"field": "upper"}}},
  {"mark": {"type": "tick", "color": "#000", "opacity": 1, "size": 12, "thickness": 1.5}, "encoding": {"y": {"field": "upper", "type": "quantitative"}}},
  {"mark": {"type": "text", "fontSize": 15, "fontWeight": "bold", "baseline": "alphabetic", "dy": -1}, "encoding": {"y": {"field": "upper", "type": "quantitative"}, "text": {"field": "sig"}}},
  {"transform": [{"filter": "datum.treatment === 'Veh'"}], "mark": {"type": "rule", "color": "#000", "strokeWidth": 1.5, "xOffset": -13.5, "x2Offset": 49, "yOffset": 17.5}, "encoding": {"x2": {"field": "bar"}, "y": {"datum": 0}}},
  {"transform": [{"filter": "datum.treatment === 'Veh'"}], "mark": {"type": "text", "text": "cPLA₂α", "align": "right", "dx": 31, "dy": 29, "baseline": "alphabetic", "fontSize": 12, "fontWeight": "bold"}, "encoding": {"y": {"datum": 0}}},
  {"transform": [{"filter": "datum.treatment === 'Veh'"}], "mark": {"type": "text", "align": "left", "dx": 33, "dy": 23.5, "baseline": "alphabetic", "fontSize": 8, "fontWeight": "bold"}, "encoding": {"y": {"datum": 0}, "text": {"field": "genotype"}}}
 ]
},
{
 "width": 144, "height": 129,
 "title": {"text": "F", "dx": -26, "offset": 19.5},
 "transform": [{"filter": "datum.panel === 'F'"}],
 "encoding": {
  "x": {"field": "bar", "type": "nominal", "sort": ["Veh +/+","Ang II +/+","Veh -/-","Ang II -/-"], "scale": {"paddingInner": 0.3, "paddingOuter": 0.2}, "axis": {"title": null, "labelExpr": "slice(datum.label, 0, -4)", "labelFontSize": 11.5, "domain": true, "domainColor": "#000", "domainWidth": 1.5, "ticks": true, "tickColor": "#000", "tickWidth": 1.5, "tickSize": 4}},
  "y": {"field": "value", "type": "quantitative", "scale": {"domain": [0, 8], "nice": false}, "axis": {"title": ["Total Proteins excreted", "(mg/day)"], "values": [0,2,4,6,8], "labelFontSize": 12, "titleFontSize": 12.5, "titleLineHeight": 14, "titlePadding": 7}}
 },
 "layer": [
  {"transform": [{"filter": "datum.bar === 'Veh +/+'"}], "mark": {"type": "bar", "fill": "#767676", "stroke": "#000", "strokeWidth": 1.5}},
  {"transform": [{"filter": "datum.bar === 'Ang II +/+'"}], "mark": {"type": "bar", "fill": {"gradient":"linear","x1":0,"y1":0,"x2":1,"y2":0,"stops":[{"offset":0,"color":"#fff"},{"offset":0.0833,"color":"#000"},{"offset":0.1667,"color":"#fff"},{"offset":0.25,"color":"#000"},{"offset":0.3333,"color":"#fff"},{"offset":0.4167,"color":"#000"},{"offset":0.5,"color":"#fff"},{"offset":0.5833,"color":"#000"},{"offset":0.6667,"color":"#fff"},{"offset":0.75,"color":"#000"},{"offset":0.8333,"color":"#fff"},{"offset":0.9167,"color":"#000"},{"offset":1,"color":"#fff"}]}}},
  {"transform": [{"filter": "datum.bar === 'Ang II +/+'"}], "mark": {"type": "bar", "stroke": "#000", "strokeWidth": 1.5, "fill": {"gradient":"linear","x1":0,"y1":0,"x2":0,"y2":1,"stops":[{"offset":0,"color":"rgba(0,0,0,0)"},{"offset":0.02,"color":"rgba(0,0,0,0.45)"},{"offset":0.04,"color":"rgba(0,0,0,0)"},{"offset":0.06,"color":"rgba(0,0,0,0.45)"},{"offset":0.08,"color":"rgba(0,0,0,0)"},{"offset":0.1,"color":"rgba(0,0,0,0.45)"},{"offset":0.12,"color":"rgba(0,0,0,0)"},{"offset":0.14,"color":"rgba(0,0,0,0.45)"},{"offset":0.16,"color":"rgba(0,0,0,0)"},{"offset":0.18,"color":"rgba(0,0,0,0.45)"},{"offset":0.2,"color":"rgba(0,0,0,0)"},{"offset":0.22,"color":"rgba(0,0,0,0.45)"},{"offset":0.24,"color":"rgba(0,0,0,0)"},{"offset":0.26,"color":"rgba(0,0,0,0.45)"},{"offset":0.28,"color":"rgba(0,0,0,0)"},{"offset":0.3,"color":"rgba(0,0,0,0.45)"},{"offset":0.32,"color":"rgba(0,0,0,0)"},{"offset":0.34,"color":"rgba(0,0,0,0.45)"},{"offset":0.36,"color":"rgba(0,0,0,0)"},{"offset":0.38,"color":"rgba(0,0,0,0.45)"},{"offset":0.4,"color":"rgba(0,0,0,0)"},{"offset":0.42,"color":"rgba(0,0,0,0.45)"},{"offset":0.44,"color":"rgba(0,0,0,0)"},{"offset":0.46,"color":"rgba(0,0,0,0.45)"},{"offset":0.48,"color":"rgba(0,0,0,0)"},{"offset":0.5,"color":"rgba(0,0,0,0.45)"},{"offset":0.52,"color":"rgba(0,0,0,0)"},{"offset":0.54,"color":"rgba(0,0,0,0.45)"},{"offset":0.56,"color":"rgba(0,0,0,0)"},{"offset":0.58,"color":"rgba(0,0,0,0.45)"},{"offset":0.6,"color":"rgba(0,0,0,0)"},{"offset":0.62,"color":"rgba(0,0,0,0.45)"},{"offset":0.64,"color":"rgba(0,0,0,0)"},{"offset":0.66,"color":"rgba(0,0,0,0.45)"},{"offset":0.68,"color":"rgba(0,0,0,0)"},{"offset":0.7,"color":"rgba(0,0,0,0.45)"},{"offset":0.72,"color":"rgba(0,0,0,0)"},{"offset":0.74,"color":"rgba(0,0,0,0.45)"},{"offset":0.76,"color":"rgba(0,0,0,0)"},{"offset":0.78,"color":"rgba(0,0,0,0.45)"},{"offset":0.8,"color":"rgba(0,0,0,0)"},{"offset":0.82,"color":"rgba(0,0,0,0.45)"},{"offset":0.84,"color":"rgba(0,0,0,0)"},{"offset":0.86,"color":"rgba(0,0,0,0.45)"},{"offset":0.88,"color":"rgba(0,0,0,0)"},{"offset":0.9,"color":"rgba(0,0,0,0.45)"},{"offset":0.92,"color":"rgba(0,0,0,0)"},{"offset":0.94,"color":"rgba(0,0,0,0.45)"},{"offset":0.96,"color":"rgba(0,0,0,0)"},{"offset":0.98,"color":"rgba(0,0,0,0.45)"},{"offset":1,"color":"rgba(0,0,0,0)"}]}}},
  {"transform": [{"filter": "datum.bar === 'Veh -/-'"}], "mark": {"type": "bar", "stroke": "#000", "strokeWidth": 1.5, "fill": {"gradient":"linear","x1":0,"y1":0,"x2":0,"y2":1,"stops":[{"offset":0,"color":"#fff"},{"offset":0.05,"color":"#6a6a6a"},{"offset":0.1,"color":"#fff"},{"offset":0.15,"color":"#6a6a6a"},{"offset":0.2,"color":"#fff"},{"offset":0.25,"color":"#6a6a6a"},{"offset":0.3,"color":"#fff"},{"offset":0.35,"color":"#6a6a6a"},{"offset":0.4,"color":"#fff"},{"offset":0.45,"color":"#6a6a6a"},{"offset":0.5,"color":"#fff"},{"offset":0.55,"color":"#6a6a6a"},{"offset":0.6,"color":"#fff"},{"offset":0.65,"color":"#6a6a6a"},{"offset":0.7,"color":"#fff"},{"offset":0.75,"color":"#6a6a6a"},{"offset":0.8,"color":"#fff"},{"offset":0.85,"color":"#6a6a6a"},{"offset":0.9,"color":"#fff"},{"offset":0.95,"color":"#6a6a6a"},{"offset":1,"color":"#fff"}]}}},
  {"transform": [{"filter": "datum.bar === 'Ang II -/-'"}], "mark": {"type": "bar", "stroke": "#000", "strokeWidth": 1.5, "fill": {"gradient":"linear","x1":0,"y1":0,"x2":1,"y2":0,"stops":[{"offset":0,"color":"#fff"},{"offset":0.0833,"color":"#fff"},{"offset":0.1333,"color":"#3a3a3a"},{"offset":0.1667,"color":"#fff"},{"offset":0.25,"color":"#fff"},{"offset":0.3,"color":"#3a3a3a"},{"offset":0.3333,"color":"#fff"},{"offset":0.4167,"color":"#fff"},{"offset":0.4667,"color":"#3a3a3a"},{"offset":0.5,"color":"#fff"},{"offset":0.5833,"color":"#fff"},{"offset":0.6333,"color":"#3a3a3a"},{"offset":0.6667,"color":"#fff"},{"offset":0.75,"color":"#fff"},{"offset":0.8,"color":"#3a3a3a"},{"offset":0.8333,"color":"#fff"},{"offset":0.9167,"color":"#fff"},{"offset":0.9667,"color":"#3a3a3a"},{"offset":1,"color":"#fff"}]}}},
  {"mark": {"type": "rule", "color": "#000", "strokeWidth": 1.5}, "encoding": {"y2": {"field": "upper"}}},
  {"mark": {"type": "tick", "color": "#000", "opacity": 1, "size": 12, "thickness": 1.5}, "encoding": {"y": {"field": "upper", "type": "quantitative"}}},
  {"mark": {"type": "text", "fontSize": 15, "fontWeight": "bold", "baseline": "alphabetic", "dy": -1}, "encoding": {"y": {"field": "upper", "type": "quantitative"}, "text": {"field": "sig"}}},
  {"transform": [{"filter": "datum.treatment === 'Veh'"}], "mark": {"type": "rule", "color": "#000", "strokeWidth": 1.5, "xOffset": -13.5, "x2Offset": 50, "yOffset": 17.5}, "encoding": {"x2": {"field": "bar"}, "y": {"datum": 0}}},
  {"transform": [{"filter": "datum.treatment === 'Veh'"}], "mark": {"type": "text", "text": "cPLA₂α", "align": "right", "dx": 31.5, "dy": 29, "baseline": "alphabetic", "fontSize": 12, "fontWeight": "bold"}, "encoding": {"y": {"datum": 0}}},
  {"transform": [{"filter": "datum.treatment === 'Veh'"}], "mark": {"type": "text", "align": "left", "dx": 33.5, "dy": 23.5, "baseline": "alphabetic", "fontSize": 8, "fontWeight": "bold"}, "encoding": {"y": {"datum": 0}, "text": {"field": "genotype"}}}
 ]
}
]
}
